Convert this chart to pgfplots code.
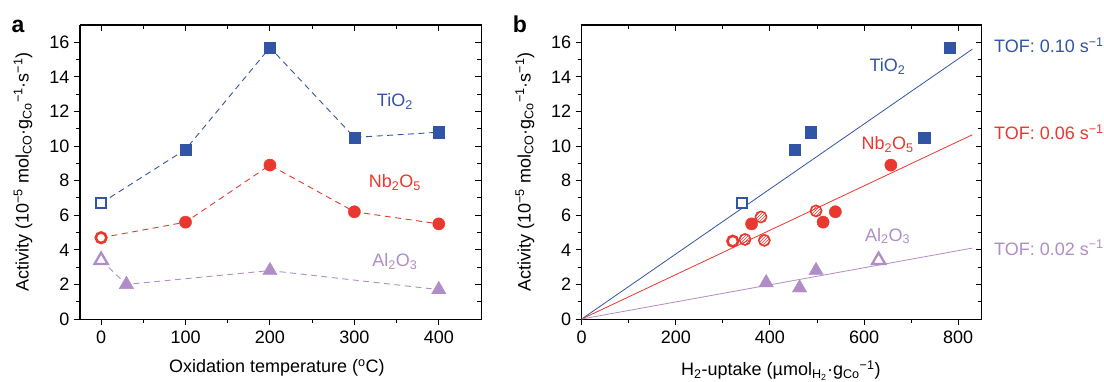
\documentclass[border=0pt]{standalone}
\usepackage{fontspec}
\setmainfont{Liberation Sans}
\usepackage{pgfplots}
\pgfplotsset{compat=1.18}
\usetikzlibrary{patterns}
\definecolor{cb}{RGB}{50,84,165}
\definecolor{cr}{RGB}{232,56,47}
\definecolor{cp}{RGB}{176,140,200}
\newcommand{\fs}{\fontsize{18}{21}\selectfont}
\pgfplotsset{
  basebox/.style={scale only axis, height=294pt, ymin=0, ymax=17,
    ytick={0,2,...,16}, minor y tick num=1,
    axis line style={line width=1pt},
    every tick/.style={line width=0.9pt, black},
    major tick length=6pt, minor tick length=4pt,
    tick label style={font=\fs},
    /pgf/number format/assume math mode=true,
    xticklabel style={yshift=-2pt}, yticklabel style={xshift=-1pt}},
  mainbox/.style={basebox, tick align=outside, xtick pos=left, ytick pos=left},
  mirrorbox/.style={basebox, tick align=inside, xtick pos=right, ytick pos=right,
    xticklabels={}, yticklabels={}},
  panA/.style={width=401pt, xmin=-25, xmax=450, xtick={0,100,...,400}, minor x tick num=1},
  panB/.style={width=400pt, xmin=0, xmax=850, xtick={0,200,...,800}, minor x tick num=1},
  fsq/.style={only marks, mark=square*, mark size=5.6pt, mark options={fill=cb, draw=cb}},
  osq/.style={only marks, mark=square*, mark size=5pt, mark options={fill=white, draw=cb, line width=2.3pt}},
  fci/.style={only marks, mark=*, mark size=6.1pt, mark options={fill=cr, draw=cr}},
  oci/.style={only marks, mark=*, mark size=5.3pt, mark options={fill=white, draw=cr, line width=2.6pt}},
  hci/.style={only marks, mark=*, mark size=5.6pt, mark options={pattern=north east lines, pattern color=cr, draw=cr, line width=1.6pt}},
  ftr/.style={only marks, mark=triangle*, mark size=8.3pt, mark options={fill=cp, draw=cp}},
  otr/.style={only marks, mark=triangle*, mark size=7.6pt, mark options={fill=white, draw=cp, line width=2.3pt}},
  dl/.style={no marks, line width=0.9pt, dash pattern=on 6pt off 4.5pt},
}
\begin{document}
\begin{tikzpicture}
\useasboundingbox (0pt,0pt) rectangle (1104pt,381pt);
% ---------------- panel a ----------------
\begin{axis}[mirrorbox, panA, at={(80pt,62pt)}, anchor=south west]
\end{axis}
\begin{axis}[mainbox, panA, at={(80pt,62pt)}, anchor=south west, clip=false,
  xlabel={Oxidation temperature (\textsuperscript{o}C)},
  ylabel={Activity (10\textsuperscript{−5} mol\textsubscript{CO}·g\textsubscript{Co}\textsuperscript{−1}·s\textsuperscript{−1})},
  every axis x label/.style={at={(axis description cs:0.491,-0.167)}, anchor=center, font=\fs},
  every axis y label/.style={at={(axis description cs:-0.142,0.5)}, rotate=90, anchor=center, font=\fs}]
\addplot[dl, cb] coordinates {(0,6.7) (100,9.8) (200,15.7) (300,10.5) (400,10.8)};
\addplot[dl, cr] coordinates {(0,4.7) (100,5.6) (200,8.9) (300,6.2) (400,5.5)};
\addplot[dl, cp] coordinates {(0,3.4) (30,2.0) (200,2.8) (400,1.7)};
\addplot[fsq] coordinates {(100,9.8) (200,15.7) (300,10.5) (400,10.8)};
\addplot[osq] coordinates {(0,6.7)};
\addplot[fci] coordinates {(100,5.6) (200,8.9) (300,6.2) (400,5.5)};
\addplot[oci] coordinates {(0,4.7)};
\addplot[ftr] coordinates {(30,2.0) (200,2.8) (400,1.7)};
\addplot[otr] coordinates {(0,3.4)};
\node[font=\fs, text=cb] at (axis cs:348,12.6) {TiO\textsubscript{2}};
\node[font=\fs, text=cr] at (axis cs:348,7.9) {Nb\textsubscript{2}O\textsubscript{5}};
\node[font=\fs, text=cp] at (axis cs:348,3.3) {Al\textsubscript{2}O\textsubscript{3}};
\end{axis}
% ---------------- panel b ----------------
\begin{axis}[mirrorbox, panB, at={(581.7pt,62pt)}, anchor=south west]
\end{axis}
\begin{axis}[mainbox, panB, at={(581.7pt,62pt)}, anchor=south west, clip=false,
  xlabel={H\textsubscript{2}-uptake (µmol\textsubscript{H\textsubscript{2}}·g\textsubscript{Co}\textsuperscript{−1})},
  ylabel={Activity (10\textsuperscript{−5} mol\textsubscript{CO}·g\textsubscript{Co}\textsuperscript{−1}·s\textsuperscript{−1})},
  every axis x label/.style={at={(axis description cs:0.498,-0.175)}, anchor=center, font=\fs},
  every axis y label/.style={at={(axis description cs:-0.142,0.5)}, rotate=90, anchor=center, font=\fs}]
\addplot[cb, line width=0.8pt, no marks] coordinates {(0,0) (830,15.6)};
\addplot[cr, line width=0.8pt, no marks] coordinates {(0,0) (830,10.65)};
\addplot[cp, line width=0.8pt, no marks] coordinates {(0,0) (830,4.1)};
\addplot[fsq] coordinates {(452,9.8) (486,10.8) (728,10.5) (782,15.7)};
\addplot[osq] coordinates {(341,6.7)};
\addplot[hci] coordinates {(347,4.6) (381,5.9) (388,4.55) (498,6.25)};
\addplot[fci] coordinates {(361,5.5) (513,5.6) (539,6.2) (657,8.9)};
\addplot[oci] coordinates {(321,4.5)};
\addplot[ftr] coordinates {(392,2.1) (463,1.8) (498,2.8)};
\addplot[otr] coordinates {(631,3.4)};
\node[font=\fs, text=cb] at (axis cs:650,14.6) {TiO\textsubscript{2}};
\node[font=\fs, text=cr] at (axis cs:650,10.1) {Nb\textsubscript{2}O\textsubscript{5}};
\node[font=\fs, text=cp] at (axis cs:650,4.8) {Al\textsubscript{2}O\textsubscript{3}};
\node[font=\fs, text=cb, anchor=west] at (axis cs:869,15.83) {TOF: 0.10 s\textsuperscript{−1}};
\node[font=\fs, text=cr, anchor=west] at (axis cs:869,10.78) {TOF: 0.06 s\textsuperscript{−1}};
\node[font=\fs, text=cp, anchor=west] at (axis cs:869,4.12) {TOF: 0.02 s\textsuperscript{−1}};
\end{axis}
\node[font=\fontsize{23}{26}\selectfont\bfseries, anchor=base] at (18pt,348pt) {a};
\node[font=\fontsize{23}{26}\selectfont\bfseries, anchor=base] at (520pt,348pt) {b};
\end{tikzpicture}
\end{document}
